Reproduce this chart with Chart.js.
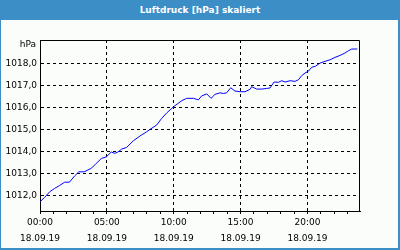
<!DOCTYPE html>
<html>
<head>
<meta charset="utf-8">
<script src="https://cdn.jsdelivr.net/npm/chart.js@4"></script>
<style>
    body { margin: 0; }
    #wrap { position: relative; width: 400px; height: 250px; background: #fbfdfb; }
    #wrap canvas { position: absolute; left: 0; top: 0; }
    #title {
        position: absolute; left: 0; top: 0; width: 400px; height: 20px;
        background: #3c8ec6; color: #fff; text-align: center;
        font: bold 9px "DejaVu Sans"; line-height: 20px;
    }
    #edge {
        position: absolute; left: 0; top: 0; width: 400px; height: 250px;
        box-sizing: border-box; border: solid #3c8ec6; border-width: 0 2px 2px 1px;
        pointer-events: none;
    }
</style>
</head>
<body>
<div id="wrap">
    <canvas id="luftdruck"></canvas>
    <div id="title">Luftdruck [hPa] skaliert</div>
    <div id="edge"></div>
</div>
<script>
// Messwerte (Stunden seit 00:00 am 18.09.19)
const hours = [0, 0.35, 0.72, 1.1, 1.47, 1.85, 2.2, 2.6, 2.9, 3.3, 3.84, 4.2, 4.6, 4.96,
    5.33, 5.6, 5.83, 6.1, 6.48, 6.98, 7.48, 7.98, 8.23, 8.73, 9.1, 9.48, 9.85, 10.1,
    10.6, 10.97, 11.47, 11.84, 12.09, 12.47, 12.79, 13.09, 13.46, 13.71, 13.96, 14.26,
    14.58, 14.96, 15.33, 15.71, 15.83, 16.2, 16.58, 16.96, 17.2, 17.5, 17.83, 18.08,
    18.33, 18.7, 19.07, 19.32, 19.57, 19.82, 20.07, 20.32, 20.57, 20.94, 21.32, 21.69,
    22.06, 22.44, 22.81, 23.06, 23.31, 23.73];
const pressure = [1011.71, 1011.91, 1012.16, 1012.32, 1012.45, 1012.6, 1012.6, 1012.89,
    1013.07, 1013.07, 1013.23, 1013.45, 1013.68, 1013.75, 1013.97, 1013.91, 1013.97,
    1014.10, 1014.18, 1014.48, 1014.70, 1014.89, 1015.0, 1015.2, 1015.5, 1015.75,
    1015.95, 1016.08, 1016.3, 1016.41, 1016.41, 1016.34, 1016.52, 1016.61, 1016.41,
    1016.59, 1016.66, 1016.63, 1016.66, 1016.89, 1016.74, 1016.71, 1016.71, 1016.82,
    1016.94, 1016.83, 1016.83, 1016.86, 1016.88, 1017.15, 1017.14, 1017.21, 1017.15,
    1017.21, 1017.18, 1017.25, 1017.44, 1017.56, 1017.64, 1017.82, 1017.86, 1018.01,
    1018.09, 1018.16, 1018.27, 1018.36, 1018.47, 1018.57, 1018.65, 1018.65];

// Achsen
const hourTicks = [0, 1, 2, 3, 4, 5, 6, 7, 8, 9, 10, 11, 12, 13, 14, 15, 16, 17, 18, 19, 20, 21, 22, 23];
const yTicks = [1012, 1013, 1014, 1015, 1016, 1017, 1018];
const dateLabel = '18.09.19';
const unitLabel = 'hPa';

const tickFont = { family: '"DejaVu Sans"', size: 9, lineHeight: '16px' };

// Rahmen oben/rechts und Einheit
const framePlugin = {
    id: 'frame',
    afterDraw(chart) {
        const { ctx, chartArea: a } = chart;
        ctx.save();
        ctx.strokeStyle = '#000';
        ctx.lineWidth = 1;
        ctx.beginPath();
        ctx.moveTo(Math.round(a.left), Math.round(a.top) + 0.5);
        ctx.lineTo(Math.round(a.right) - 0.5, Math.round(a.top) + 0.5);
        ctx.lineTo(Math.round(a.right) - 0.5, Math.round(a.bottom));
        ctx.stroke();
        ctx.fillStyle = '#000';
        ctx.font = '9px "DejaVu Sans"';
        ctx.textAlign = 'right';
        ctx.textBaseline = 'middle';
        ctx.fillText(unitLabel, a.left - 4, a.top + 5);
        ctx.restore();
    }
};

const ctx = document.getElementById('luftdruck').getContext('2d');
const chart = new Chart(ctx, {
    type: 'line',
    data: {
        datasets: [{
            data: hours.map((h, i) => ({ x: h, y: pressure[i] })),
            borderColor: '#0000ff',
            borderWidth: 1,
            pointRadius: 0,
            fill: false,
            tension: 0
        }]
    },
    options: {
        responsive: true,
        maintainAspectRatio: false,
        animation: false,
        layout: { padding: { left: 0, top: 40, right: 40, bottom: 0 } },
        plugins: { legend: { display: false }, tooltip: { enabled: false } },
        scales: {
            x: {
                type: 'linear',
                min: 0,
                max: 23.93,
                afterBuildTicks: s => { s.ticks = hourTicks.map(v => ({ value: v })); },
                afterFit: s => { s.height = 39; },
                ticks: {
                    autoSkip: false,
                    maxRotation: 0,
                    padding: 1,
                    color: '#000',
                    font: tickFont,
                    callback: v => v % 5 === 0 ? [String(v).padStart(2, '0') + ':00', dateLabel] : ''
                },
                grid: {
                    color: c => (c.tick && c.tick.value % 5 === 0) ? '#000' : 'rgba(0,0,0,0)',
                    tickColor: '#000',
                    tickLength: 3
                },
                border: { color: '#000', dash: [3, 3] }
            },
            y: {
                min: 1011.29,
                max: 1019.06,
                afterBuildTicks: s => { s.ticks = yTicks.map(v => ({ value: v })); },
                afterFit: s => { s.width = 40; },
                ticks: {
                    padding: 3,
                    color: '#000',
                    font: tickFont,
                    callback: v => v.toFixed(1).replace('.', ',')
                },
                grid: { color: '#000', drawTicks: false },
                border: { color: '#000', dash: [3, 3] }
            }
        }
    },
    plugins: [framePlugin]
});
</script>
</body>
</html>
